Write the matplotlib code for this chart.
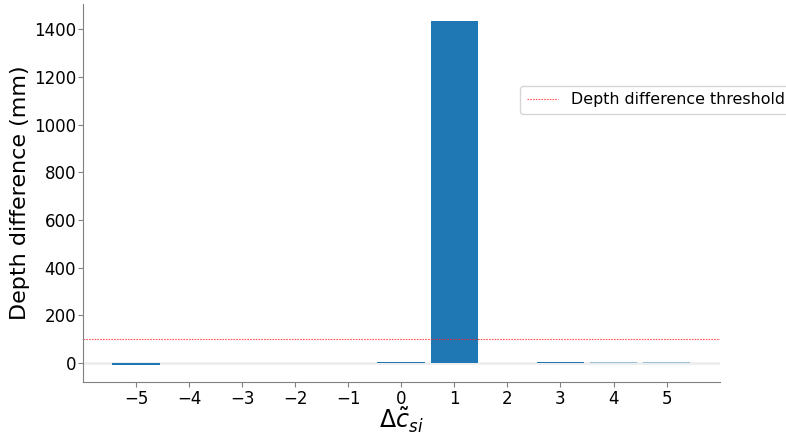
import matplotlib
matplotlib.use('Agg')
import matplotlib.pyplot as plt

# depth difference per shift of c_si
shifts = [-5, 0, 1, 3, 4, 5]
depth_diff = [-7, 5, 1435, 5, 5, 5]
bar_alpha = [1.0, 1.0, 1.0, 1.0, 0.4, 0.4]
threshold = 100
xticks = [-5, -4, -3, -2, -1, 0, 1, 2, 3, 4, 5]

fig = plt.figure(figsize=(7.86, 4.37), dpi=100)
ax = fig.add_axes([0.1056, 0.126, 0.81, 0.865])

ax.axhline(0, color='lightgray', alpha=0.4, lw=2, zorder=0)
for s, d, a in zip(shifts, depth_diff, bar_alpha):
    ax.bar(s, d, width=0.9, color='#1f77b4', alpha=a)
ax.axhline(threshold, color='#ff2020', ls=(0, (1.5, 1)), lw=0.8, alpha=0.75,
           label='Depth difference threshold')

ax.set_xlim(-6, 6)
ax.set_xticks(xticks)
ax.set_xticklabels(['\u2212%d' % -t if t < 0 else str(t) for t in xticks])
ax.tick_params(labelsize=12, colors='black')
ax.tick_params(axis='both', color='gray')
ax.tick_params(axis='x', pad=2)
ax.tick_params(axis='y', pad=1.5)
ax.set_xlabel(r'$\Delta\tilde{c}_{si}$', fontsize=17, labelpad=-1)
ax.set_ylabel('Depth difference (mm)', fontsize=16, labelpad=3)

for side in ['top', 'right']:
    ax.spines[side].set_visible(False)
for side in ['left', 'bottom']:
    ax.spines[side].set_color('gray')

fig.legend(loc='upper left', bbox_to_anchor=(0.662, 0.803), fontsize=11.4,
           handlelength=2.0, borderaxespad=0)

fig.savefig('out.png', dpi=100)
